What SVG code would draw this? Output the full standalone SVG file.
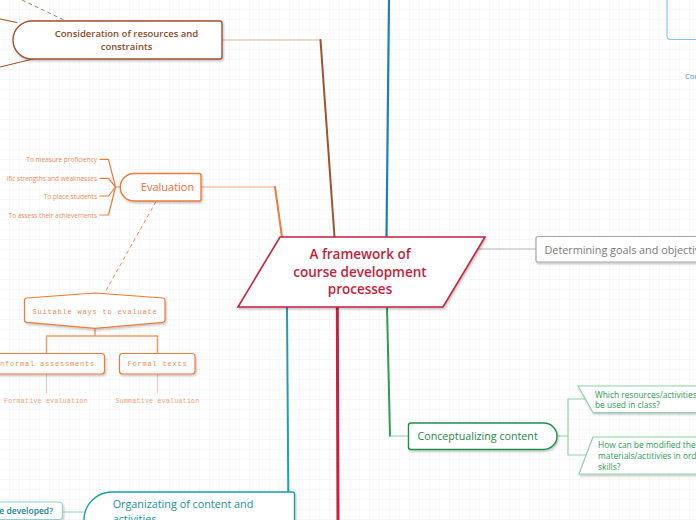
<svg xmlns="http://www.w3.org/2000/svg" width="696" height="520" viewBox="0 0 696 520">
<defs>
<pattern id="grid" width="10" height="10" patternUnits="userSpaceOnUse">
<path d="M10 0 V10 M0 10 H10" fill="none" stroke="#f1f1f1" stroke-width="1"/>
</pattern>
<filter id="sh" x="-10%" y="-20%" width="130%" height="160%">
<feDropShadow dx="1" dy="1.5" stdDeviation="1" flood-color="#000" flood-opacity="0.25"/>
</filter>
<style>
text{font-family:"Open Sans","Noto Sans","Liberation Sans",sans-serif}
.mono{font-family:"Liberation Mono","DejaVu Sans Mono",monospace}
.node{fill:#fff;filter:url(#sh)}
.ln{fill:none;stroke-linecap:round;stroke-linejoin:round}
</style>
</defs>
<rect width="696" height="520" fill="#fff"/>
<rect width="696" height="520" fill="url(#grid)"/>

<g id="connectors">
<path class="ln" d="M222 40 H320.5" stroke="#d9b8a2" stroke-width="1"/>
<path class="ln" d="M320.5 40 L334.5 237" stroke="#a0522d" stroke-width="2"/>
<path class="ln" d="M0 19 L17 22.5" stroke="#a0522d" stroke-width="1.2"/>
<path class="ln" d="M0 67 L33 59" stroke="#a0522d" stroke-width="1.2"/>
<path d="M22 0 L66 21" fill="none" stroke="#b07a5a" stroke-width="1" stroke-dasharray="4 3"/>
<path class="ln" d="M389 0 L386.5 237" stroke="#1a7fc0" stroke-width="2.2"/>
<path class="ln" d="M201 187 H275" stroke="#f5a47c" stroke-width="1"/>
<path class="ln" d="M275 187 L282 237" stroke="#f07a3a" stroke-width="2"/>
<path class="ln" d="M120.5 187 H115.5 M100 159.3 H108.5 L115.5 187 M100 178.3 H108.5 L115.5 187 M100 196 H108.5 L115.5 187 M100 215 H108.5 L115.5 187" stroke="#f07a3a" stroke-width="1.2"/>
<path d="M156 201.5 L104 294" fill="none" stroke="#f08a55" stroke-width="1" stroke-dasharray="4 3"/>
<path class="ln" d="M95 328.5 V336 M46.5 353.5 V336 H157.5 V353.5" stroke="#f29a6e" stroke-width="1.5"/>
<path class="ln" d="M46.5 374 V393 M157.5 374 V393" stroke="#f8c4a6" stroke-width="1"/>
<path class="ln" d="M478 249 H536" stroke="#b5b5b5" stroke-width="1"/>
<path class="ln" d="M287 307 L288.3 492" stroke="#1aa0b0" stroke-width="2"/>
<path class="ln" d="M62.5 512 H84" stroke="#8fd0d8" stroke-width="1.2"/>
<path class="ln" d="M337.3 307 L338 522" stroke="#cc1f40" stroke-width="3"/>
<path class="ln" d="M387 307 L390 436" stroke="#2a9d55" stroke-width="2"/>
<path class="ln" d="M390 436 H408.5" stroke="#8fd2a8" stroke-width="1"/>
<path class="ln" d="M557 436 H568 M585 399 H568 V455 H586" stroke="#8fd2a8" stroke-width="1.2"/>
</g>

<g id="node-center">
<polygon class="node" points="280,237 485,237 443,307 238,307" stroke="#c8203f" stroke-width="1.6"/>
<text x="360" y="259" font-size="13.5" font-weight="600" fill="#c41e3a" text-anchor="middle">A framework of</text>
<text x="360" y="276.5" font-size="13.5" font-weight="600" fill="#c41e3a" text-anchor="middle">course development</text>
<text x="360" y="294" font-size="13.5" font-weight="600" fill="#c41e3a" text-anchor="middle">processes</text>
</g>

<g id="node-consideration">
<path class="node" d="M32 21 H220 Q222 21 222 23 V57 Q222 59 220 59 H32 A19 19 0 0 1 32 21 Z" stroke="#a0522d" stroke-width="1.4"/>
<text x="126.5" y="36.5" font-size="9.5" font-weight="600" fill="#8b4a2a" text-anchor="middle">Consideration of resources and</text>
<text x="126.5" y="49.5" font-size="9.5" font-weight="600" fill="#8b4a2a" text-anchor="middle">constraints</text>
</g>

<g id="node-top-right">
<path d="M667 -5 V36 Q667 39.5 670.5 39.5 H700" fill="none" stroke="#8ac4e6" stroke-width="1.2"/>
<text x="685" y="79" font-size="7.5" fill="#3a8fd0">Cou</text>
</g>

<g id="node-evaluation">
<path class="node" d="M134 173.5 H199 Q201 173.5 201 175.5 V199 Q201 201 199 201 H134 A13.75 13.75 0 0 1 134 173.5 Z" stroke="#f07a3a" stroke-width="1.4"/>
<text x="167.5" y="191" font-size="11" fill="#ee7034" text-anchor="middle">Evaluation</text>
</g>

<g id="eval-items" font-size="6.5" fill="#ee8a5a" text-anchor="end">
<text x="97" y="161.5">To measure proficiency</text>
<text x="97" y="180.5">ific strengths and weaknesses</text>
<text x="97" y="198.5">To place students</text>
<text x="97" y="217.5">To assess their achievements</text>
</g>

<g id="node-suitable">
<path class="node" d="M27 298 L95 293 L163 298 Q165 298.5 165 300.5 V320 Q165 322 163 322.3 L95 328.3 L27 322.3 Q24.5 322 24.5 320 V300.5 Q24.5 298.5 27 298 Z" stroke="#f07a3a" stroke-width="1.2"/>
<text class="mono" x="95" y="314" font-size="7" letter-spacing="0.8" fill="#ee8a5a" text-anchor="middle">Suitable ways to evaluate</text>
</g>

<g id="node-informal">
<rect class="node" x="-10" y="353.5" width="114.5" height="20.5" rx="3" stroke="#f07a3a" stroke-width="1.2"/>
<text class="mono" x="95" y="366" font-size="7" letter-spacing="0.8" fill="#ee8a5a" text-anchor="end">nformal assessments</text>
</g>

<g id="node-formal">
<rect class="node" x="119.5" y="353.5" width="75.5" height="20.5" rx="3" stroke="#f07a3a" stroke-width="1.2"/>
<text class="mono" x="157.5" y="366" font-size="7" letter-spacing="0.8" fill="#ee8a5a" text-anchor="middle">Formal texts</text>
</g>

<g id="node-formative">
<text class="mono" x="46" y="403" font-size="6.5" letter-spacing="0.3" fill="#f2a27a" text-anchor="middle">Formative evaluation</text>
</g>
<g id="node-summative">
<text class="mono" x="157.5" y="403" font-size="6.5" letter-spacing="0.3" fill="#f2a27a" text-anchor="middle">Summative evaluation</text>
</g>

<g id="node-goals">
<rect class="node" x="536" y="236.5" width="200" height="25.5" rx="2" stroke="#a8a8a8" stroke-width="1.2"/>
<text x="544.5" y="253.5" font-size="10.8" fill="#777">Determining goals and objectiv</text>
</g>

<g id="node-conceptualizing">
<path class="node" d="M411 423 H543.75 A13.25 13.25 0 0 1 543.75 449.5 H411 Q408.5 449.5 408.5 447 V425.5 Q408.5 423 411 423 Z" stroke="#1f8f4a" stroke-width="1.4"/>
<text x="417.5" y="439.5" font-size="10.7" fill="#1f8646">Conceptualizing content</text>
</g>

<g id="node-q1">
<path class="node" d="M578 386 H700 V412.5 H593 Z" stroke="#8fd2a8" stroke-width="1.2"/>
<text x="595" y="397.5" font-size="8.4" fill="#2a9a50">Which resources/activities</text>
<text x="595" y="408" font-size="8.4" fill="#2a9a50">be used in class?</text>
</g>

<g id="node-q2">
<path class="node" d="M593 437 H700 V474 H579 Z" stroke="#8fd2a8" stroke-width="1.2"/>
<text x="598" y="448" font-size="8.4" fill="#2a9a50">How can be modified the</text>
<text x="598" y="458.5" font-size="8.4" fill="#2a9a50">materials/actitivies in ord</text>
<text x="598" y="469.5" font-size="8.4" fill="#2a9a50">skills?</text>
</g>

<g id="node-organizing">
<path class="node" d="M112 492 H292.5 Q294.5 492 294.5 494 V548 H112 A28 28 0 0 1 112 492 Z" stroke="#1aa0b0" stroke-width="1.4"/>
<text x="112.7" y="508.3" font-size="10.8" fill="#15909e">Organizating of content and</text>
<text x="112.7" y="523" font-size="10.8" fill="#15909e">activities</text>
</g>

<g id="node-developed">
<rect class="node" x="-10" y="502" width="72.5" height="17.5" rx="4" stroke="#8fd0d8" stroke-width="1.2"/>
<text x="53" y="514" font-size="8.5" font-weight="600" fill="#14808c" text-anchor="end">e developed?</text>
</g>
</svg>
